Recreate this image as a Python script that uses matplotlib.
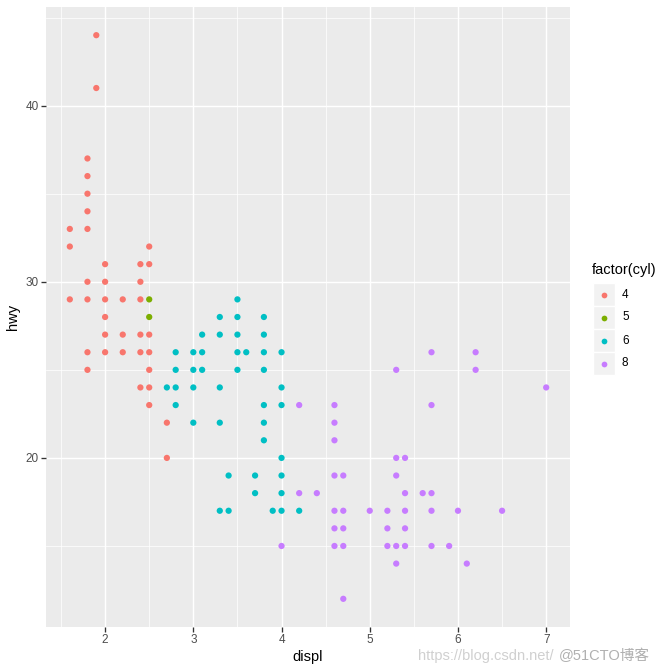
import numpy as np
from matplotlib import pyplot as plt
from matplotlib.lines import Line2D

# points, one list per cylinder group
displ_4 = [1.9, 1.9, 1.8, 1.8, 1.8, 1.8, 1.6, 1.8, 1.6, 2.5, 2.0, 2.4, 2.5, 1.8, 2.0, 2.4,
           1.6, 1.8, 2.0, 2.2, 2.4, 2.0, 2.0, 2.2, 2.4, 2.5, 1.8, 2.0, 2.2, 2.4, 2.5,
           1.8, 2.5, 2.4, 2.5, 2.5, 2.7, 2.7]
hwy_4 = [44, 41, 37, 36, 35, 34, 33, 33, 32, 32, 31, 31, 31, 30, 30, 30,
         29, 29, 29, 29, 29, 28, 27, 27, 27, 27, 26, 26, 26, 26, 26,
         25, 25, 24, 24, 23, 22, 20]

displ_5 = [2.5, 2.5]
hwy_5 = [29, 28]

displ_6 = [3.5, 3.3, 3.5, 3.8, 3.1, 3.3, 3.5, 3.8, 2.8, 3.0, 3.1, 3.5, 3.6, 3.8, 4.0,
           2.8, 3.0, 3.1, 3.5, 3.8, 2.7, 2.8, 3.0, 3.3, 4.0, 2.8, 3.8, 4.0,
           3.0, 3.3, 3.8, 3.8, 4.0, 3.4, 3.7, 4.0, 3.7, 4.0, 3.3, 3.4, 3.9, 4.0, 4.2]
hwy_6 = [29, 28, 28, 28, 27, 27, 27, 27, 26, 26, 26, 26, 26, 26, 26,
         25, 25, 25, 25, 25, 24, 24, 24, 24, 24, 23, 23, 23,
         22, 22, 22, 21, 20, 19, 19, 19, 18, 18, 17, 17, 17, 17, 17]

displ_8 = [5.7, 6.2, 5.3, 6.2, 7.0, 4.2, 4.6, 5.7, 4.6, 4.6, 5.3, 5.4, 4.6, 4.7, 5.3,
           4.2, 4.4, 5.4, 5.6, 5.7, 4.6, 4.7, 5.0, 5.2, 5.4, 5.7, 6.0, 6.5,
           4.6, 4.7, 5.2, 5.4, 4.0, 4.6, 4.7, 5.2, 5.3, 5.4, 5.7, 5.9, 5.3, 6.1, 4.7]
hwy_8 = [26, 26, 25, 25, 24, 23, 23, 23, 22, 21, 20, 20, 19, 19, 19,
         18, 18, 18, 18, 18, 17, 17, 17, 17, 17, 17, 17, 17,
         16, 16, 16, 16, 15, 15, 15, 15, 15, 15, 15, 15, 14, 14, 12]

groups = ["4", "5", "6", "8"]
colors = ["#F8766D", "#7CAE00", "#00BFC4", "#C77CFF"]
x_ticks = [2, 3, 4, 5, 6, 7]
y_ticks = [20, 30, 40]

plt.rcParams['font.family'] = ['Liberation Sans', 'Noto Sans CJK SC', 'DejaVu Sans']

W = 672.0
fig = plt.figure(figsize=(7, 7), dpi=96)

def px(x, y):
    # pixel position (from top left) -> figure fraction
    return x / W, 1 - y / W

# panel spans x 46..570, y 7..627 in pixels
ax = fig.add_axes([46 / W, 1 - 627 / W, 524 / W, 620 / W])
ax.set_facecolor("#EBEBEB")
for s in ax.spines.values():
    s.set_visible(False)

series = [(displ_4, hwy_4), (displ_5, hwy_5), (displ_6, hwy_6), (displ_8, hwy_8)]
for (xs, ys), c in zip(series, colors):
    ax.scatter(xs, ys, s=22, color=c, edgecolors="none", zorder=3)

# ggplot style limits: 5% expansion of data range
xmin, xmax = 1.6, 7.0
ymin, ymax = 12, 44
ax.set_xlim(xmin - 0.05 * (xmax - xmin), xmax + 0.05 * (xmax - xmin))
ax.set_ylim(ymin - 0.05 * (ymax - ymin), ymax + 0.05 * (ymax - ymin))

ax.set_xticks(x_ticks)
ax.set_yticks(y_ticks)
ax.set_xticks(np.arange(1.5, 7.5, 1.0), minor=True)
ax.set_yticks([15, 25, 35, 45], minor=True)
ax.grid(True, which="major", color="white", linewidth=1.1, zorder=0)
ax.grid(True, which="minor", color="white", linewidth=0.55, zorder=0)
ax.set_axisbelow(True)
ax.tick_params(which="major", length=3.5, width=1.0, color="#333333",
               labelsize=8.8, labelcolor="#4D4D4D", pad=2)
ax.tick_params(which="minor", length=0)

ax.set_xlabel("displ", fontsize=11, color="black", labelpad=3)
ax.set_ylabel("hwy", fontsize=11, color="black", labelpad=4)

# legend, drawn by hand in figure pixels
fig.text(*px(592, 270), "factor(cyl)", fontsize=11, va="center", ha="left")
for i, (g, c) in enumerate(zip(groups, colors)):
    y0 = 283 + i * 23
    fx, fy = px(593, y0 + 23)
    fig.patches.append(plt.Rectangle((fx, fy), 22 / W, 23 / W, transform=fig.transFigure,
                                     facecolor="#F2F2F2", edgecolor="white", linewidth=1))
    cx, cy = px(604, y0 + 11.5)
    fig.add_artist(Line2D([cx], [cy], marker="o", markersize=4.3, color=c,
                          markeredgewidth=0, linestyle="none", transform=fig.transFigure))
    fig.text(*px(622, y0 + 11.5), g, fontsize=8.8, va="center", ha="left")

# watermark
fig.text(*px(418, 660), "https://blog.csdn.net/", fontsize=11, color="#D0D0D0")
fig.text(*px(559, 660), "@51CTO博客", fontsize=11, color="#B0B0B0")

fig.savefig("out.png", dpi=96)
